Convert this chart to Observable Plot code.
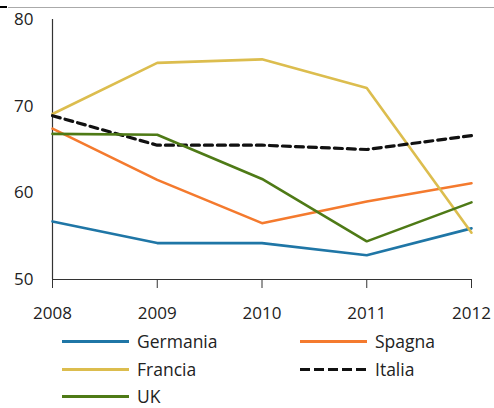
<!DOCTYPE html>
<html><head><meta charset="utf-8">
<script src="https://cdn.jsdelivr.net/npm/d3@7"></script>
<script src="https://cdn.jsdelivr.net/npm/@observablehq/plot@0.6"></script>
<style>
body{margin:0;background:#fff;font-family:"Open Sans",sans-serif;}
#wrap{position:relative;width:494px;height:408px;overflow:hidden;}
#topline{position:absolute;top:7px;left:8px;right:0;height:1px;background:#aaa;}
#topmark{position:absolute;top:6px;left:0;width:7px;height:2px;background:#000;}
#chart{position:absolute;top:0;left:0;}
.leg{position:absolute;display:flex;align-items:center;font-size:17.5px;line-height:20px;color:#222;}
.sw{width:67px;height:3px;margin-right:8px;}
</style></head>
<body><div id="wrap"><div id="chart"></div><div id="topline"></div><div id="topmark"></div><div id="legend"></div></div>
<script>
const years = [2008, 2009, 2010, 2011, 2012];
const germania = [56.7, 54.2, 54.2, 52.8, 55.9];
const spagna = [67.4, 61.5, 56.5, 59.0, 61.1];
const francia = [69.1, 75.0, 75.4, 72.1, 55.4];
const italia = [68.9, 65.5, 65.5, 65.0, 66.6];
const uk = [66.8, 66.7, 61.6, 54.4, 58.9];
const yTicks = [50, 60, 70, 80];

const series = [
  {name: "Germania", values: germania, color: "#1f76a6", dash: null, w: 2.6},
  {name: "Spagna", values: spagna, color: "#f47a2e", dash: null, w: 2.6},
  {name: "Francia", values: francia, color: "#dcbd4e", dash: null, w: 2.6},
  {name: "Italia", values: italia, color: "#111111", dash: "8,5", w: 3.2},
  {name: "UK", values: uk, color: "#4e7a16", dash: null, w: 2.6}
];
const rows = series.flatMap(s => years.map((y, i) => ({name: s.name, year: y, value: s.values[i]})));

const marks = [
  Plot.ruleY([50], {stroke: "#333", strokeWidth: 1.2}),
  Plot.ruleX([2008], {stroke: "#333", strokeWidth: 1.2}),
  Plot.axisX({ticks: years, tickFormat: "d", tickSize: 9, tickPadding: 18, fontSize: 17, stroke: "#333", color: "#222"}),
  Plot.axisY({ticks: yTicks, tickSize: 0, tickPadding: 19, fontSize: 17, color: "#222"})
];
for (const s of series) {
  marks.push(Plot.line(rows.filter(d => d.name === s.name), {
    x: "year", y: "value", stroke: s.color, strokeWidth: s.w,
    strokeDasharray: s.dash, strokeLinejoin: "miter"
  }));
}

const chart = Plot.plot({
  width: 494, height: 325,
  marginTop: 19, marginBottom: 46, marginLeft: 52, marginRight: 23,
  style: {fontFamily: "Open Sans, sans-serif", background: "transparent", overflow: "visible"},
  x: {domain: [2008, 2012], label: null},
  y: {domain: [50, 80], label: null},
  marks
});
document.getElementById("chart").append(chart);

const pos = [[62, 341], [300, 341], [62, 369], [300, 369], [62, 396]];
const leg = document.getElementById("legend");
series.forEach((s, i) => {
  const d = document.createElement("div");
  d.className = "leg";
  d.style.left = pos[i][0] + "px";
  d.style.top = (pos[i][1] - 10) + "px";
  d.style.height = "20px";
  const sw = document.createElement("div");
  sw.className = "sw";
  sw.style.background = s.dash
    ? `repeating-linear-gradient(to right, ${s.color} 0 10px, transparent 10px 14px)`
    : s.color;
  const t = document.createElement("span");
  t.textContent = s.name;
  d.append(sw, t);
  leg.append(d);
});
</script></body></html>
